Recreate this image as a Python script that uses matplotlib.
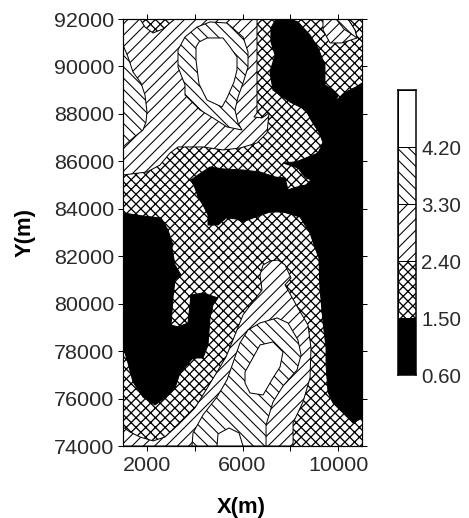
#!/usr/bin/env python3
"""Hatched contour map of the 0.60-5.10 field over X(m), Y(m), with its level bar."""
import matplotlib
matplotlib.use("Agg")
import matplotlib.pyplot as plt

# contour regions (x in m, y in m), painted bottom to top
band_nw_x = [1000, 6607, 6607, 6480, 6816, 7110, 7025, 6607, 5895, 5184, 4347, 3301, 2966, 2548, 2004, 1000]
band_nw_y = [92000, 92000, 88040, 87870, 87830, 88040, 87195, 86775, 86560, 86480, 86605, 86605, 86350, 85845, 85550, 85425]

notch_x = [1711, 1920, 2255, 2674, 2966, 3176]
notch_y = [92000, 91660, 91410, 91580, 91830, 92000]

high_w_x = [1000, 1000, 1209, 1418, 1753, 1920, 2004, 1962, 1837, 1418, 1000]
high_w_y = [90905, 90905, 90400, 89765, 89300, 88795, 88080, 87660, 87320, 86985, 86605]

ring_n_x = [4640, 5351, 6021, 6230, 6230, 6021, 5812, 5686, 5812, 5979, 5351, 4766, 4222, 3594, 3594, 3301, 3301, 3594, 4096]
ring_n_y = [91875, 91830, 91240, 90610, 89975, 89300, 88710, 88165, 87615, 87320, 87450, 87830, 88165, 88795, 89220, 89975, 90695, 91240, 91660]

peak_n_x = [4515, 5184, 5477, 5770, 5770, 5644, 5351, 5142, 4515, 4180, 4054, 4054, 4180]
peak_n_y = [91200, 91200, 90820, 90400, 89850, 89345, 88670, 88290, 88585, 89260, 90270, 90820, 91030]

corner_low_x = [9368, 9368, 9661, 10163, 10790, 10707, 10414]
corner_low_y = [92000, 91535, 90990, 90990, 91200, 91535, 92000]

corner_high_x = [9912, 10247, 10790, 10707, 10414]
corner_high_y = [92000, 91580, 91200, 91535, 92000]

low_e_x = [7400, 7990, 8320, 8825, 9160, 9450, 9450, 9785, 9995, 9912, 10330, 10750, 11000, 11000,
           10625, 10205, 9785, 9577, 9495, 9495, 9368, 9240, 9200, 9035, 8825, 8405, 7695, 7150,
           6440, 6021, 5730, 5310, 4975, 4556, 4556, 4347, 4138, 4012, 3845, 4138, 4640, 5184,
           6021, 6732, 7360, 7780, 7905, 8115, 8655, 8865, 8615, 8320, 7695, 8240, 9160, 9368,
           9240, 8865, 8655, 7990, 7275, 7150, 7360, 7190, 7190]
low_e_y = [92000, 92000, 91875, 91325, 90780, 90060, 89220, 89005, 88795, 88545, 88925, 89135, 89300, 75180,
           74970, 75395, 75815, 76280, 77415, 78135, 79230, 80660, 81925, 82350, 82980, 83655, 83865, 83865,
           83610, 83450, 83570, 83610, 83315, 83315, 83740, 84160, 84500, 84875, 85215, 85425, 85760, 85680,
           85635, 85550, 85340, 85300, 84790, 84875, 85005, 85215, 85340, 85720, 85930, 85975, 86350, 86775,
           87155, 87745, 88165, 88500, 89005, 89765, 90485, 91030, 91620]

low_w_x = [1000, 1837, 2590, 2883, 3090, 3050, 3176, 3425, 3176, 3090, 3010, 3301, 3720, 3845, 4347, 4975,
           4766, 4640, 4556, 4347, 3930, 3385, 3176, 2800, 2340, 1837, 1418, 1209, 1084, 1000]
low_w_y = [83825, 83695, 83610, 83105, 82475, 82350, 81630, 81210, 81000, 80240, 79100, 79020, 79185, 80365, 80450, 80240,
           79945, 79400, 78260, 77710, 77710, 77080, 76445, 76065, 75730, 76065, 76700, 77500, 77920, 77960]

band_s_x = [1000, 1293, 1711, 2255, 2757, 3301, 4012, 4473, 4933, 5310, 5600, 6021, 6400, 6816, 6732, 6860,
            7150, 7485, 7780, 8030, 7780, 8320, 8740, 8865, 8825, 8530, 8115, 8115, 1000]
band_s_y = [74800, 74590, 74380, 74215, 74380, 74885, 75605, 76360, 77120, 77755, 78470, 79525, 80030, 80575, 81210, 81630,
            81800, 81840, 81630, 81085, 80790, 79820, 79100, 78135, 76870, 75855, 74970, 74000, 74000]

high_s_x = [3885, 3930, 4347, 4933, 5351, 5600, 5895, 6230, 6732, 7445, 7905, 8320, 8450, 8280, 7695, 7275, 6985, 6985]
high_s_y = [74000, 74550, 75310, 76065, 76785, 77500, 78345, 78890, 79185, 79400, 79185, 78470, 77840, 77205, 76530, 75855, 74885, 74000]

peak_s_x = [6105, 6315, 6732, 7275, 7695, 7570, 7275, 6860, 6315, 6105]
peak_s_y = [77120, 77500, 78260, 78385, 77965, 77330, 76870, 76150, 76235, 76655]

peak_b_x = [4933, 4975, 5435, 5855, 6021]
peak_b_y = [74000, 74510, 74760, 74550, 74000]

# axes and legend
x_ticks = [2000, 4000, 6000, 8000, 10000]
x_labels = ["2000", "", "6000", "", "10000"]
y_ticks = [74000, 76000, 78000, 80000, 82000, 84000, 86000, 88000, 90000, 92000]
levels = [0.60, 1.50, 2.40, 3.30, 4.20, 5.10]
level_labels = ["0.60", "1.50", "2.40", "3.30", "4.20"]

W, H = 469, 518
DPI = 204
PX = 72 / DPI  # one image pixel in points

HATCH_LOW = {"facecolor": "black", "edgecolor": "black", "hatch": None}
HATCH_CROSS = {"facecolor": "white", "edgecolor": "black", "hatch": "x" * 7}
HATCH_MID = {"facecolor": "white", "edgecolor": "black", "hatch": "/" * 6}
HATCH_HIGH = {"facecolor": "white", "edgecolor": "black", "hatch": "\\" * 6}
HATCH_TOP = {"facecolor": "white", "edgecolor": "black", "hatch": None}
TEXT = "#2a2a2a"

plt.rcParams["font.family"] = ["Liberation Sans", "DejaVu Sans"]


def hatch_width(style):
    return (1.3 if style is HATCH_CROSS else 1.05) * PX


def region(ax, xs, ys, style):
    plt.rcParams["hatch.linewidth"] = hatch_width(style)
    ax.fill(xs, ys, lw=1.0 * PX, joinstyle="round", **style)


fig = plt.figure(figsize=((W + 0.01) / DPI, (H + 0.01) / DPI), dpi=DPI)
ax = fig.add_axes([123 / W, 1 - 446 / H, 239 / W, 427 / H])
ax.set_xlim(1000, 11000)
ax.set_ylim(74000, 92000)

region(ax, [1000, 11000, 11000, 1000], [74000, 74000, 92000, 92000], HATCH_CROSS)
region(ax, band_nw_x, band_nw_y, HATCH_MID)
region(ax, notch_x, notch_y, HATCH_CROSS)
region(ax, high_w_x, high_w_y, HATCH_HIGH)
region(ax, ring_n_x, ring_n_y, HATCH_HIGH)
region(ax, peak_n_x, peak_n_y, HATCH_TOP)
region(ax, corner_low_x, corner_low_y, HATCH_MID)
region(ax, corner_high_x, corner_high_y, HATCH_HIGH)
region(ax, low_e_x, low_e_y, HATCH_LOW)
region(ax, low_w_x, low_w_y, HATCH_LOW)
region(ax, band_s_x, band_s_y, HATCH_MID)
region(ax, high_s_x, high_s_y, HATCH_HIGH)
region(ax, peak_s_x, peak_s_y, HATCH_TOP)
region(ax, peak_b_x, peak_b_y, HATCH_TOP)

ax.set_xticks(x_ticks, x_labels)
ax.set_yticks(y_ticks)
ax.tick_params(which="both", direction="out", top=True, right=True, length=5 * PX, width=1.0 * PX,
               labelsize=21.5 * PX, labelcolor=TEXT)
ax.tick_params(axis="x", pad=5 * PX)
ax.tick_params(axis="y", pad=3.5 * PX)
for s in ax.spines.values():
    s.set_linewidth(1.2 * PX)
    s.set_zorder(5)

ax.set_xlabel("X(m)", fontsize=22 * PX, fontweight="bold", va="center")
ax.xaxis.set_label_coords(0.494, -0.143)
ax.set_ylabel("Y(m)", fontsize=22 * PX, fontweight="bold", va="center")
ax.yaxis.set_label_coords(-0.41, 0.50)

# level bar
cax = fig.add_axes([398 / W, 1 - 375 / H, 18 / W, 285 / H])
cax.set_xlim(0, 1)
cax.set_ylim(levels[0], levels[-1])
bar_styles = [HATCH_LOW, HATCH_CROSS, HATCH_MID, HATCH_HIGH, HATCH_TOP]
for lo, hi, style in zip(levels[:-1], levels[1:], bar_styles):
    plt.rcParams["hatch.linewidth"] = hatch_width(style)
    cax.bar(0.5, hi - lo, width=1, bottom=lo, lw=1.0 * PX, **style)
cax.set_xticks([])
cax.yaxis.tick_right()
cax.set_yticks(levels[:-1], level_labels)
cax.tick_params(axis="y", length=0, pad=5 * PX, labelsize=20.5 * PX, labelcolor=TEXT)
for s in cax.spines.values():
    s.set_linewidth(1.5 * PX)
    s.set_zorder(5)

fig.savefig("out.png", dpi=DPI)
